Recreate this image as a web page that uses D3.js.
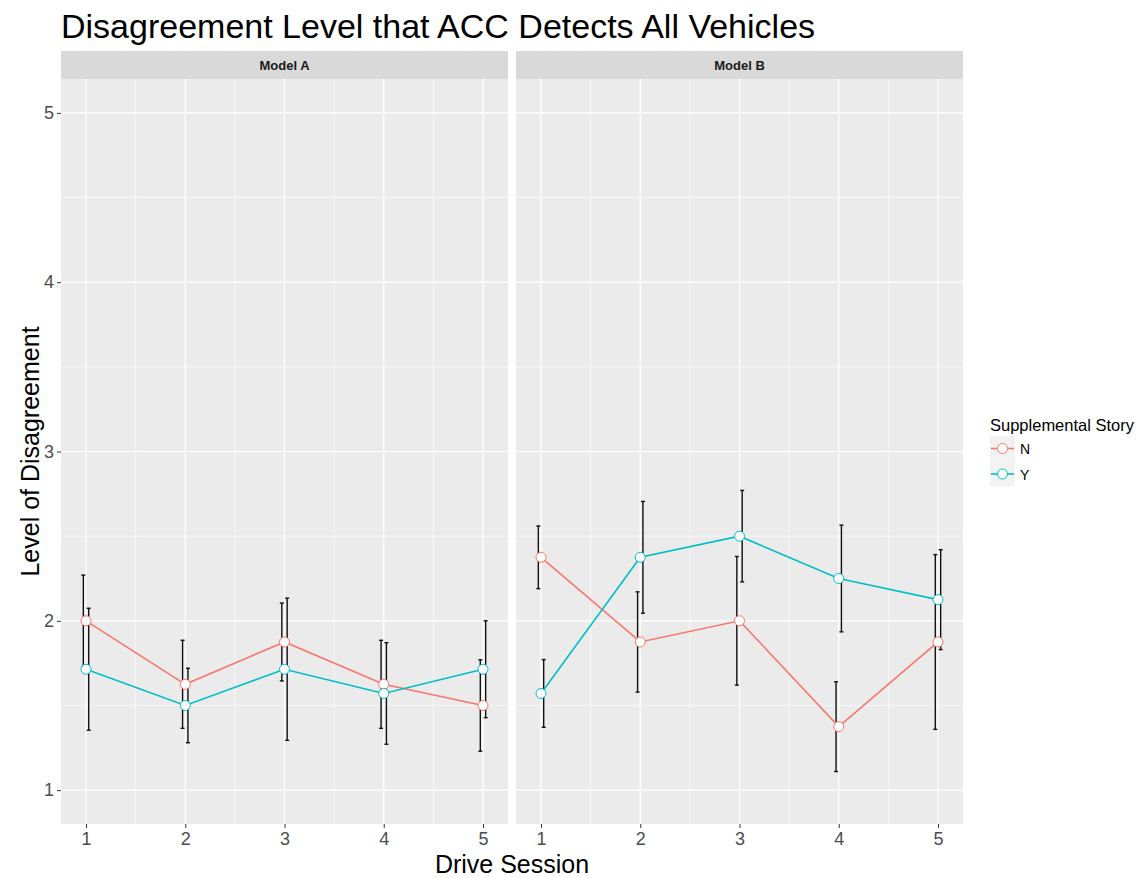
<!DOCTYPE html>
<html>
<head>
<meta charset="utf-8">
<script src="https://cdn.jsdelivr.net/npm/d3@7"></script>
<style>
  body { margin: 0; background: #fff; }
  text { font-family: "Liberation Sans", Arial, sans-serif; }
</style>
</head>
<body>
<div class="chart"></div>
<script>
// chart data
var sessions = [1, 2, 3, 4, 5];
var models = ["Model A", "Model B"];
var groups = ["N", "Y"];
var colors = ["#F8766D", "#00BFC4"];

var modelA_N = [2.0, 1.625, 1.875, 1.625, 1.5];
var modelA_N_err = [0.27, 0.26, 0.23, 0.26, 0.27];
var modelA_Y = [1.714, 1.5, 1.714, 1.571, 1.714];
var modelA_Y_err = [0.36, 0.22, 0.42, 0.30, 0.286];

var modelB_N = [2.375, 1.875, 2.0, 1.375, 1.875];
var modelB_N_err = [0.185, 0.296, 0.38, 0.265, 0.516];
var modelB_Y = [1.571, 2.375, 2.5, 2.25, 2.125];
var modelB_Y_err = [0.2, 0.33, 0.27, 0.315, 0.295];

var yTicks = [1, 2, 3, 4, 5];
var yMinor = [1.5, 2.5, 3.5, 4.5];
var xMinor = [1.5, 2.5, 3.5, 4.5];

var svgWidth = 1141;
var svgHeight = 878;

var svg = d3.select(".chart")
  .append("svg")
  .attr("width", svgWidth)
  .attr("height", svgHeight);

// panel layout
var panelTop = 79, panelBottom = 824;
var panels = [
  { name: models[0], left: 61, right: 508, series: [[modelA_N, modelA_N_err], [modelA_Y, modelA_Y_err]] },
  { name: models[1], left: 516, right: 963, series: [[modelB_N, modelB_N_err], [modelB_Y, modelB_Y_err]] }
];

var yScale = d3.scaleLinear()
  .domain([0.8, 5.2])
  .range([panelBottom, panelTop]);

// title
svg.append("text")
  .attr("x", 61)
  .attr("y", 38)
  .attr("font-size", "34px")
  .attr("fill", "#000")
  .text("Disagreement Level that ACC Detects All Vehicles");

var dodge = 0.027;

panels.forEach(function(p, pi) {
  var xScale = d3.scaleLinear()
    .domain([0.748, 5.252])
    .range([p.left, p.right]);

  var g = svg.append("g");

  // strip
  g.append("rect")
    .attr("x", p.left).attr("y", 51)
    .attr("width", p.right - p.left).attr("height", panelTop - 51)
    .attr("fill", "#D9D9D9");
  g.append("text")
    .attr("x", (p.left + p.right) / 2)
    .attr("y", 70)
    .attr("text-anchor", "middle")
    .attr("font-size", "13px")
    .attr("font-weight", "bold")
    .attr("fill", "#1A1A1A")
    .text(p.name);

  // panel background
  g.append("rect")
    .attr("x", p.left).attr("y", panelTop)
    .attr("width", p.right - p.left).attr("height", panelBottom - panelTop)
    .attr("fill", "#EBEBEB");

  // minor grid
  g.selectAll(".ymin").data(yMinor).enter().append("line")
    .attr("x1", p.left).attr("x2", p.right)
    .attr("y1", function(d) { return yScale(d); })
    .attr("y2", function(d) { return yScale(d); })
    .attr("stroke", "#fff").attr("stroke-width", 0.6);
  g.selectAll(".xmin").data(xMinor).enter().append("line")
    .attr("y1", panelTop).attr("y2", panelBottom)
    .attr("x1", function(d) { return xScale(d); })
    .attr("x2", function(d) { return xScale(d); })
    .attr("stroke", "#fff").attr("stroke-width", 0.6);

  // major grid
  g.selectAll(".ymaj").data(yTicks).enter().append("line")
    .attr("x1", p.left).attr("x2", p.right)
    .attr("y1", function(d) { return yScale(d); })
    .attr("y2", function(d) { return yScale(d); })
    .attr("stroke", "#fff").attr("stroke-width", 1.2);
  g.selectAll(".xmaj").data(sessions).enter().append("line")
    .attr("y1", panelTop).attr("y2", panelBottom)
    .attr("x1", function(d) { return xScale(d); })
    .attr("x2", function(d) { return xScale(d); })
    .attr("stroke", "#fff").attr("stroke-width", 1.2);

  // x axis
  var bottomAxis = d3.axisBottom(xScale).tickValues(sessions).tickFormat(d3.format("d"))
    .tickSize(4).tickPadding(4);
  var xa = g.append("g")
    .attr("transform", "translate(0," + panelBottom + ")")
    .call(bottomAxis);
  xa.select(".domain").remove();
  xa.selectAll(".tick line").attr("stroke", "#333");
  xa.selectAll(".tick text").attr("fill", "#4D4D4D").attr("font-size", "18px")
    .attr("font-family", "Liberation Sans, Arial, sans-serif");

  // y axis on first panel only
  if (pi === 0) {
    var leftAxis = d3.axisLeft(yScale).tickValues(yTicks).tickFormat(d3.format("d"))
      .tickSize(4).tickPadding(3);
    var ya = g.append("g")
      .attr("transform", "translate(" + p.left + ",0)")
      .call(leftAxis);
    ya.select(".domain").remove();
    ya.selectAll(".tick line").attr("stroke", "#333");
    ya.selectAll(".tick text").attr("fill", "#4D4D4D").attr("font-size", "18px")
      .attr("font-family", "Liberation Sans, Arial, sans-serif");
  }

  // error bars
  p.series.forEach(function(s, si) {
    var off = si === 0 ? -dodge : dodge;
    var rows = sessions.map(function(x, i) { return { x: x + off, m: s[0][i], e: s[1][i] }; });
    var eb = g.selectAll(".eb" + si).data(rows).enter().append("g");
    eb.append("line")
      .attr("x1", function(d) { return xScale(d.x); })
      .attr("x2", function(d) { return xScale(d.x); })
      .attr("y1", function(d) { return yScale(d.m + d.e); })
      .attr("y2", function(d) { return yScale(d.m - d.e); })
      .attr("stroke", "#111").attr("stroke-width", 1.4);
    [1, -1].forEach(function(sign) {
      eb.append("line")
        .attr("x1", function(d) { return xScale(d.x) - 2; })
        .attr("x2", function(d) { return xScale(d.x) + 2; })
        .attr("y1", function(d) { return yScale(d.m + sign * d.e); })
        .attr("y2", function(d) { return yScale(d.m + sign * d.e); })
        .attr("stroke", "#111").attr("stroke-width", 1.4);
    });
  });

  // lines
  p.series.forEach(function(s, si) {
    var line = d3.line()
      .x(function(d, i) { return xScale(sessions[i]); })
      .y(function(d) { return yScale(d); });
    g.append("path")
      .datum(s[0])
      .attr("d", line)
      .attr("fill", "none")
      .attr("stroke", colors[si])
      .attr("stroke-width", 1.6);
  });

  // points
  p.series.forEach(function(s, si) {
    g.selectAll(".pt" + si).data(s[0]).enter().append("circle")
      .attr("cx", function(d, i) { return xScale(sessions[i]); })
      .attr("cy", function(d) { return yScale(d); })
      .attr("r", 5)
      .attr("fill", "#fff")
      .attr("stroke", colors[si])
      .attr("stroke-width", 1);
  });
});

// axis titles
svg.append("text")
  .attr("x", 512)
  .attr("y", 873)
  .attr("text-anchor", "middle")
  .attr("font-size", "25px")
  .attr("fill", "#000")
  .text("Drive Session");

svg.append("text")
  .attr("transform", "translate(39," + ((panelTop + panelBottom) / 2) + ") rotate(-90)")
  .attr("text-anchor", "middle")
  .attr("font-size", "25px")
  .attr("fill", "#000")
  .text("Level of Disagreement");

// legend
var legend = svg.append("g").attr("transform", "translate(990,0)");
legend.append("text")
  .attr("x", 0).attr("y", 431)
  .attr("font-size", "16.5px")
  .attr("fill", "#000")
  .text("Supplemental Story");

groups.forEach(function(grp, i) {
  var top = 436 + i * 25.5;
  legend.append("rect")
    .attr("x", 0).attr("y", top)
    .attr("width", 25).attr("height", 25)
    .attr("fill", "#F2F2F2");
  legend.append("line")
    .attr("x1", 1).attr("x2", 24)
    .attr("y1", top + 12.5).attr("y2", top + 12.5)
    .attr("stroke", colors[i]).attr("stroke-width", 1.6);
  legend.append("circle")
    .attr("cx", 12.5).attr("cy", top + 12.5).attr("r", 5)
    .attr("fill", "#fff").attr("stroke", colors[i]).attr("stroke-width", 1);
  legend.append("text")
    .attr("x", 30).attr("y", top + 18)
    .attr("font-size", "14px")
    .attr("fill", "#000")
    .text(grp);
});
</script>
</body>
</html>
